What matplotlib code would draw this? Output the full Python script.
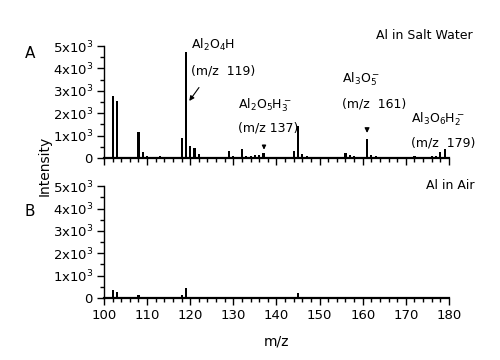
import numpy as np
import matplotlib
matplotlib.use("Agg")
import matplotlib.pyplot as plt
from matplotlib.ticker import MultipleLocator, FixedLocator, FixedFormatter

# Peak lists (m/z, intensity)
mz_a = [100, 101, 102, 103, 104, 106, 107, 108, 109, 110, 111, 112, 113, 114,
        115, 116, 117, 118, 119, 120, 121, 122, 123, 124, 125, 126, 127, 128,
        129, 130, 131, 132, 133, 134, 135, 136, 137, 138, 139, 140, 141, 142,
        143, 144, 145, 146, 147, 148, 149, 150, 151, 152, 153, 154, 155, 156,
        157, 158, 159, 160, 161, 162, 163, 164, 165, 166, 167, 168, 169, 170,
        171, 172, 173, 174, 175, 176, 177, 178, 179]
int_a = [30, 60, 2790, 2550, 60, 60, 40, 1160, 250, 100, 40, 40, 90, 40,
         40, 50, 60, 900, 4720, 530, 450, 160, 50, 40, 40, 40, 50, 60,
         300, 110, 60, 390, 110, 100, 150, 120, 220, 60, 50, 40, 40, 50,
         60, 300, 1420, 200, 80, 60, 60, 50, 40, 40, 50, 50, 60, 220,
         120, 80, 60, 60, 850, 150, 100, 60, 50, 40, 60, 50, 60, 50,
         60, 80, 60, 50, 60, 80, 100, 270, 390]

mz_b = [101, 102, 103, 104, 105, 106, 107, 108, 109, 112, 115, 117, 118, 119,
        120, 121, 124, 129, 132, 137, 144, 145, 150, 155, 161, 170, 178]
int_b = [50, 340, 260, 40, 30, 30, 30, 120, 40, 20, 20, 30, 120, 450,
         60, 60, 20, 60, 30, 30, 30, 230, 20, 20, 60, 20, 30]

ytick_vals = [0, 1000, 2000, 3000, 4000, 5000]
ytick_labels = ["0", "1x10$^3$", "2x10$^3$", "3x10$^3$", "4x10$^3$", "5x10$^3$"]

fig = plt.figure(figsize=(5, 3.6), dpi=100)
ax1 = fig.add_axes([0.208, 0.561, 0.690, 0.311])
ax2 = fig.add_axes([0.208, 0.172, 0.690, 0.311])

for ax, mz, inten in [(ax1, mz_a, int_a), (ax2, mz_b, int_b)]:
    ax.bar(mz, inten, width=0.5, color="black")
    ax.set_xlim(100, 180)
    ax.set_ylim(0, 5000)
    ax.spines["top"].set_visible(False)
    ax.spines["right"].set_visible(False)
    ax.spines["left"].set_linewidth(1.0)
    ax.spines["bottom"].set_linewidth(1.6)
    ax.xaxis.set_major_locator(MultipleLocator(10))
    ax.xaxis.set_minor_locator(MultipleLocator(2))
    ax.yaxis.set_major_locator(FixedLocator(ytick_vals))
    ax.yaxis.set_major_formatter(FixedFormatter(ytick_labels))
    ax.yaxis.set_minor_locator(MultipleLocator(500))
    ax.tick_params(which="major", direction="out", length=5, width=1, labelsize=9.5, pad=3)
    ax.tick_params(which="minor", direction="out", length=3, width=1)

ax1.tick_params(axis="x", labelbottom=False)

# top panel labels
ax1.text(185.4, 5480, "Al in Salt Water", ha="right", va="center", fontsize=9, clip_on=False)
ax1.text(120.2, 5050, "Al$_2$O$_4$H", ha="left", va="center", fontsize=9, clip_on=False)
ax1.text(120.2, 3880, "(m/z  119)", ha="left", va="center", fontsize=9)
ax1.annotate("", xy=(119.4, 2450), xytext=(122.4, 3250),
             arrowprops=dict(arrowstyle="-|>", color="black", lw=0.8, mutation_scale=7))
ax1.text(131.0, 2350, "Al$_2$O$_5$H$_3^-$", ha="left", va="center", fontsize=9)
ax1.text(131.0, 1330, "(m/z 137)", ha="left", va="center", fontsize=9)
ax1.annotate("", xy=(137.1, 250), xytext=(137.1, 700),
             arrowprops=dict(arrowstyle="-|>", color="black", lw=0.8, mutation_scale=6))
ax1.text(155.2, 3530, "Al$_3$O$_5^-$", ha="left", va="center", fontsize=9)
ax1.text(155.2, 2400, "(m/z  161)", ha="left", va="center", fontsize=9)
ax1.annotate("", xy=(161.0, 1000), xytext=(161.0, 1400),
             arrowprops=dict(arrowstyle="-|>", color="black", lw=0.8, mutation_scale=7))
ax1.text(171.2, 1730, "Al$_3$O$_6$H$_2^-$", ha="left", va="center", fontsize=9, clip_on=False)
ax1.text(171.2, 680, "(m/z  179)", ha="left", va="center", fontsize=9, clip_on=False)

# bottom panel label
ax2.text(186.0, 5050, "Al in Air", ha="right", va="center", fontsize=9, clip_on=False)
ax2.set_xlabel("m/z", fontsize=10, labelpad=9)

fig.text(0.06, 1 - 53 / 360, "A", fontsize=11, ha="center", va="center")
fig.text(0.06, 1 - 212 / 360, "B", fontsize=11, ha="center", va="center")
fig.text(0.09, 1 - 166 / 360, "Intensity", fontsize=10, rotation=90, ha="center", va="center")

fig.savefig("out.png", dpi=100)
